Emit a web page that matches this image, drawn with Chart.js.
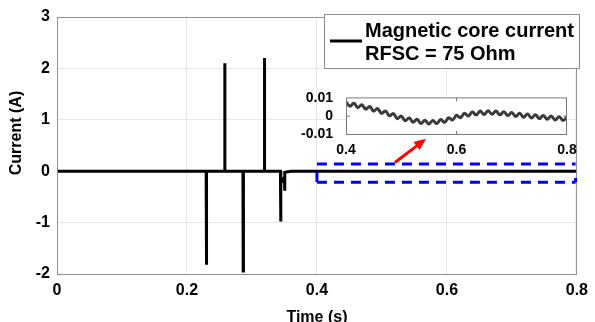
<!DOCTYPE html>
<html>
<head>
<meta charset="UTF-8">
<title>Magnetic core current</title>
<script src="https://cdn.jsdelivr.net/npm/chart.js"></script>
<style>
body { margin: 0; background: #fff; }
#wrap { position: relative; width: 595px; height: 322px; overflow: hidden; }
#mainChart { position: absolute; left: 0; top: 0; }
#insetChart { position: absolute; left: 300px; top: 84px; }
</style>
</head>
<body>
<div id="wrap">
  <canvas id="mainChart" width="595" height="322"></canvas>
  <canvas id="insetChart" width="280" height="80"></canvas>
</div>

<script>
// main trace: flat at zero with switching spikes
const timeMain = [0, 0.2295, 0.2299, 0.2303, 0.2577, 0.2581, 0.2585, 0.2861, 0.2865, 0.2869,
  0.3188, 0.3192, 0.3196, 0.3438, 0.3442, 0.3446, 0.3475, 0.3499, 0.3503, 0.3507, 0.36, 0.8];
const currentMain = [0, 0, -1.82, 0, 0, 2.1, 0, 0, -1.94, 0,
  0, 2.2, 0, 0, -0.98, -0.12, -0.18, -0.12, -0.38, -0.02, 0, 0];

// zoomed part 0.4 - 0.8 s
const timeInset = [0.4000, 0.4071, 0.4143, 0.4214, 0.4286, 0.4357, 0.4429, 0.4500, 0.4571, 0.4643,
  0.4714, 0.4786, 0.4857, 0.4929, 0.5000, 0.5071, 0.5143, 0.5214, 0.5286, 0.5357,
  0.5429, 0.5500, 0.5571, 0.5643, 0.5714, 0.5786, 0.5857, 0.5929, 0.6000, 0.6071,
  0.6143, 0.6214, 0.6286, 0.6357, 0.6429, 0.6500, 0.6571, 0.6643, 0.6714, 0.6786,
  0.6857, 0.6929, 0.7000, 0.7071, 0.7143, 0.7214, 0.7286, 0.7357, 0.7429, 0.7500,
  0.7571, 0.7643, 0.7714, 0.7786, 0.7857, 0.7929, 0.8000];
const currentInset = [0.0080, 0.0056, 0.0072, 0.0048, 0.0064, 0.0039, 0.0054, 0.0028, 0.0042, 0.0016,
  0.0029, 0.0002, 0.0014, -0.0014, 0.0000, -0.0026, -0.0010, -0.0034, -0.0018, -0.0041,
  -0.0023, -0.0044, -0.0024, -0.0042, -0.0019, -0.0035, -0.0009, -0.0022, 0.0005, -0.0009,
  0.0016, 0.0000, 0.0023, 0.0006, 0.0028, 0.0009, 0.0030, 0.0010, 0.0029, 0.0007,
  0.0025, 0.0003, 0.0020, -0.0002, 0.0016, -0.0006, 0.0012, -0.0010, 0.0008, -0.0014,
  0.0004, -0.0018, 0.0000, -0.0022, -0.0003, -0.0024, -0.0005];

const xTicksMain = [0, 0.2, 0.4, 0.6, 0.8];
const yTicksMain = [-2, -1, 0, 1, 2, 3];
const xTicksInset = [0.4, 0.6, 0.8];
const yTicksInset = [-0.01, 0, 0.01];
const legendLines = ['Magnetic core current', 'RFSC = 75 Ohm'];
const xTitle = 'Time (s)';
const yTitle = 'Current (A)';

const FONT = "'Liberation Sans', Arial, sans-serif";
const AXIS_GREY = '#8c8c8c';

function pts(xs, ys) {
  return xs.map((x, i) => ({ x: x, y: ys[i] }));
}

// box, zoom rectangle, arrow, legend and titles on the main plot
const mainDecor = {
  id: 'mainDecor',
  beforeDraw(chart) {
    const c = chart.ctx;
    c.save();
    c.fillStyle = '#fff';
    c.fillRect(0, 0, chart.width, chart.height);
    c.restore();
  },
  afterDatasetsDraw(chart) {
    const c = chart.ctx;
    const a = chart.chartArea;
    const xs = chart.scales.x, ys = chart.scales.y;
    c.save();

    // axes box
    c.strokeStyle = AXIS_GREY;
    c.lineWidth = 1;
    c.strokeRect(a.left + 0.5, a.top + 0.5, a.right - a.left - 1, a.bottom - a.top);

    // dashed zoom region
    const rx0 = xs.getPixelForValue(0.4), rx1 = xs.getPixelForValue(0.798);
    const ry0 = ys.getPixelForValue(0.14), ry1 = ys.getPixelForValue(-0.215);
    c.strokeStyle = '#0000ff';
    c.lineWidth = 3;
    c.setLineDash([10, 7]);
    c.beginPath();
    c.moveTo(rx0, ry0); c.lineTo(rx1, ry0);
    c.moveTo(rx0, ry1); c.lineTo(rx1, ry1);
    c.moveTo(rx0, ry0 + 8); c.lineTo(rx0, ry1);
    c.moveTo(rx1, ry0 + 14); c.lineTo(rx1, ry1);
    c.stroke();
    c.setLineDash([]);

    // red arrow to the inset
    const ax0 = xs.getPixelForValue(0.52), ay0 = ys.getPixelForValue(0.17);
    const ax1 = xs.getPixelForValue(0.568), ay1 = ys.getPixelForValue(0.63);
    const ang = Math.atan2(ay1 - ay0, ax1 - ax0);
    c.strokeStyle = '#ff0000';
    c.fillStyle = '#ff0000';
    c.lineWidth = 3;
    c.beginPath();
    c.moveTo(ax0, ay0);
    c.lineTo(ax1 - 8 * Math.cos(ang), ay1 - 8 * Math.sin(ang));
    c.stroke();
    c.beginPath();
    c.moveTo(ax1, ay1);
    c.lineTo(ax1 - 12 * Math.cos(ang) + 5 * Math.sin(ang), ay1 - 12 * Math.sin(ang) - 5 * Math.cos(ang));
    c.lineTo(ax1 - 12 * Math.cos(ang) - 5 * Math.sin(ang), ay1 - 12 * Math.sin(ang) + 5 * Math.cos(ang));
    c.closePath();
    c.fill();

    // legend
    const lx = 324, ly = 14, lw = 255, lh = 54;
    c.fillStyle = '#fff';
    c.fillRect(lx, ly, lw, lh);
    c.strokeStyle = AXIS_GREY;
    c.lineWidth = 1;
    c.strokeRect(lx + 0.5, ly + 0.5, lw, lh);
    c.strokeStyle = '#000';
    c.lineWidth = 3;
    c.beginPath();
    c.moveTo(lx + 6, ly + 27); c.lineTo(lx + 38, ly + 27);
    c.stroke();
    c.fillStyle = '#000';
    c.font = 'bold 20px ' + FONT;
    c.textAlign = 'left';
    c.textBaseline = 'alphabetic';
    c.fillText(legendLines[0], lx + 41, ly + 23);
    c.fillText(legendLines[1], lx + 41, ly + 46);

    // axis titles
    c.font = 'bold 16px ' + FONT;
    c.textAlign = 'center';
    c.textBaseline = 'middle';
    c.fillText(xTitle, (a.left + a.right) / 2, 318);
    c.translate(17, 133);
    c.rotate(-Math.PI / 2);
    c.fillText(yTitle, 0, 0);
    c.restore();
  }
};

new Chart(document.getElementById('mainChart'), {
  type: 'line',
  data: {
    datasets: [{
      data: pts(timeMain, currentMain),
      borderColor: '#000',
      borderWidth: 3,
      pointRadius: 0,
      tension: 0,
      fill: false
    }]
  },
  options: {
    responsive: false,
    animation: false,
    layout: { autoPadding: false, padding: { left: 0, top: 17, right: 15, bottom: 0 } },
    plugins: { legend: { display: false }, tooltip: { enabled: false } },
    scales: {
      x: {
        type: 'linear', min: 0, max: 0.8,
        afterBuildTicks: s => { s.ticks = xTicksMain.map(v => ({ value: v })); },
        afterFit: s => { s.height = 48; },
        ticks: { color: '#000', font: { family: FONT, size: 16, weight: 'bold' }, padding: 7, maxRotation: 0, autoSkip: false, callback: v => String(v) },
        grid: { color: '#e6e6e6', drawTicks: false },
        border: { color: AXIS_GREY }
      },
      y: {
        type: 'linear', min: -2, max: 3,
        afterBuildTicks: s => { s.ticks = yTicksMain.map(v => ({ value: v })); },
        afterFit: s => { s.width = 57; },
        ticks: { color: '#000', font: { family: FONT, size: 16, weight: 'bold' }, padding: 7, autoSkip: false, callback: v => String(v) },
        grid: { color: '#e6e6e6', drawTicks: false },
        border: { color: AXIS_GREY }
      }
    }
  },
  plugins: [mainDecor]
});

// inset frame and inward ticks
const insetDecor = {
  id: 'insetDecor',
  beforeDatasetsDraw(chart) {
    const a = chart.chartArea, c = chart.ctx;
    c.save();
    c.fillStyle = '#fff';
    c.fillRect(a.left, a.top, a.right - a.left, a.bottom - a.top);
    c.restore();
  },
  afterDatasetsDraw(chart) {
    const a = chart.chartArea, c = chart.ctx;
    const mx = chart.scales.x.getPixelForValue(0.6);
    const my = chart.scales.y.getPixelForValue(0);
    c.save();
    c.strokeStyle = '#7a7a7a';
    c.lineWidth = 1;
    c.strokeRect(a.left + 0.5, a.top + 0.5, a.right - a.left - 1, a.bottom - a.top - 1);
    c.beginPath();
    c.moveTo(mx, a.top); c.lineTo(mx, a.top + 4);
    c.moveTo(mx, a.bottom); c.lineTo(mx, a.bottom - 4);
    c.moveTo(a.left, my); c.lineTo(a.left + 4, my);
    c.moveTo(a.right, my); c.lineTo(a.right - 4, my);
    c.stroke();
    c.restore();
  }
};

new Chart(document.getElementById('insetChart'), {
  type: 'line',
  data: {
    datasets: [{
      data: pts(timeInset, currentInset),
      borderColor: '#3a3a3a',
      borderWidth: 3,
      pointRadius: 0,
      tension: 0.4,
      fill: false
    }]
  },
  options: {
    responsive: false,
    animation: false,
    layout: { autoPadding: false, padding: { left: 0, top: 9, right: 13, bottom: 0 } },
    plugins: { legend: { display: false }, tooltip: { enabled: false } },
    scales: {
      x: {
        type: 'linear', min: 0.4, max: 0.8,
        afterBuildTicks: s => { s.ticks = xTicksInset.map(v => ({ value: v })); },
        afterFit: s => { s.height = 29; },
        ticks: { color: '#000', font: { family: FONT, size: 14, weight: 'bold' }, padding: -1, maxRotation: 0, autoSkip: false, callback: v => String(v) },
        grid: { display: false },
        border: { display: false }
      },
      y: {
        type: 'linear', min: -0.0106, max: 0.0105,
        afterBuildTicks: s => { s.ticks = yTicksInset.map(v => ({ value: v })); },
        afterFit: s => { s.width = 46; },
        ticks: { color: '#000', font: { family: FONT, size: 14, weight: 'bold' }, padding: 5, autoSkip: false, callback: v => String(v) },
        grid: { display: false },
        border: { display: false }
      }
    }
  },
  plugins: [insetDecor]
});
</script>
</body>
</html>
